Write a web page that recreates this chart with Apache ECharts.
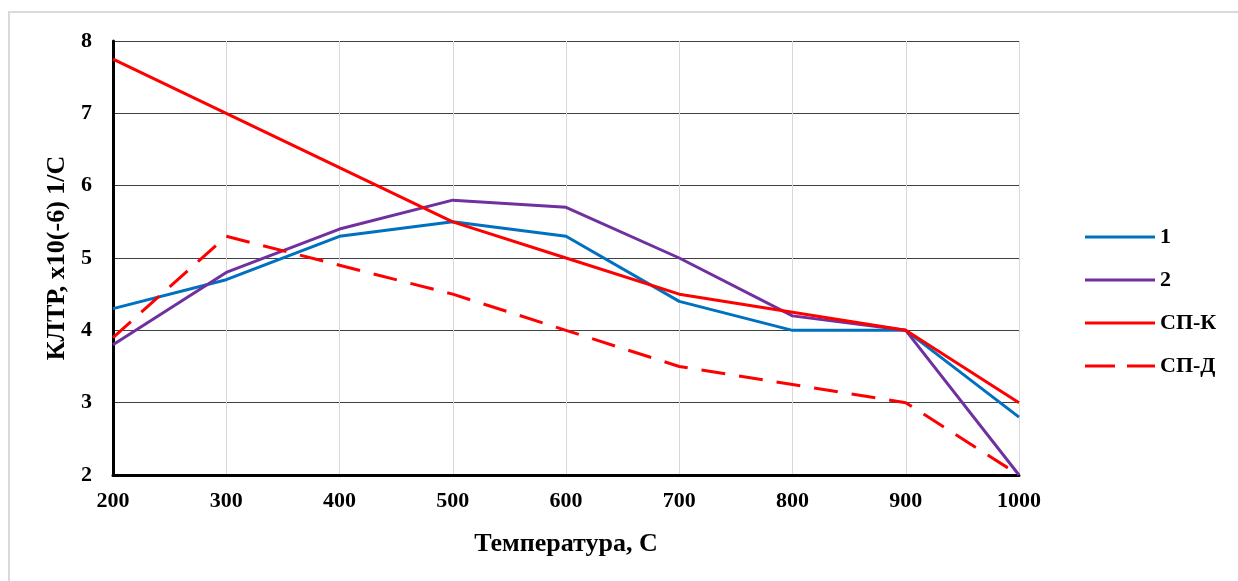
<!DOCTYPE html>
<html>
<head>
<meta charset="utf-8">
<script src="https://cdn.jsdelivr.net/npm/echarts@6/dist/echarts.min.js"></script>
<style>
html,body{margin:0;padding:0;background:#fff;}
#frame{position:absolute;left:8px;top:11px;width:1240px;height:580px;border-left:2px solid #d9d9d9;border-top:2px solid #d9d9d9;}
#chart{position:absolute;left:0;top:0;width:1238px;height:581px;}
</style>
</head>
<body>
<div id="frame"></div>
<div id="chart"></div>
<script>
var categories = ['200','300','400','500','600','700','800','900','1000'];
var series1 = [4.3, 4.7, 5.3, 5.5, 5.3, 4.4, 4.0, 4.0, 2.8];
var series2 = [3.8, 4.8, 5.4, 5.8, 5.7, 5.0, 4.2, 4.0, 2.0];
var seriesSPK = [7.75, 7.0, 6.25, 5.5, 5.0, 4.5, 4.25, 4.0, 3.0];
var seriesSPD = [3.9, 5.3, 4.9, 4.5, 4.0, 3.5, 3.25, 3.0, 2.0];
var seriesNames = ['1', '2', 'СП-К', 'СП-Д'];
var xTitle = 'Температура, C';
var yTitle = 'КЛТР, x10(-6) 1/C';

var font = 'Liberation Serif, Times New Roman, serif';
var chart = echarts.init(document.getElementById('chart'), null, {renderer: 'canvas'});
function line(name, data, color, dashed) {
  return {
    name: name, type: 'line', data: data, symbol: 'none', smooth: false,
    lineStyle: {color: color, width: 3, type: dashed ? [24, 14] : 'solid'},
    itemStyle: {color: color}
  };
}
var solidIcon = 'rect';
var dashIcon = 'path://M0,0h30v3h-30z M42,0h28v3h-28z';
chart.setOption({
  animation: false,
  backgroundColor: 'transparent',
  grid: {left: 113, right: 219, top: 41, bottom: 106, containLabel: false},
  legend: {
    orient: 'vertical', left: 1080, top: 221, itemWidth: 70, itemHeight: 3, itemGap: 21,
    textStyle: {fontFamily: font, fontWeight: 'bold', fontSize: 22, lineHeight: 22, color: '#000'},
    data: [
      {name: seriesNames[0], icon: solidIcon},
      {name: seriesNames[1], icon: solidIcon},
      {name: seriesNames[2], icon: solidIcon},
      {name: seriesNames[3], icon: dashIcon}
    ]
  },
  xAxis: {
    type: 'category', data: categories, boundaryGap: false,
    name: xTitle, nameLocation: 'middle', nameGap: 56,
    nameTextStyle: {fontFamily: font, fontWeight: 'bold', fontSize: 26, color: '#000'},
    axisLine: {show: true, onZero: false, lineStyle: {color: '#000', width: 3}},
    axisTick: {show: false},
    axisLabel: {margin: 15, fontFamily: font, fontWeight: 'bold', fontSize: 22, color: '#000'},
    splitLine: {show: true, lineStyle: {color: '#d9d9d9', width: 1}}
  },
  yAxis: {
    type: 'value', min: 2, max: 8, interval: 1,
    name: yTitle, nameLocation: 'middle', nameGap: 43, nameRotate: 90,
    nameTextStyle: {fontFamily: font, fontWeight: 'bold', fontSize: 26, color: '#000'},
    axisLine: {show: true, lineStyle: {color: '#000', width: 3}},
    axisTick: {show: false},
    axisLabel: {margin: 21, fontFamily: font, fontWeight: 'bold', fontSize: 22, color: '#000'},
    splitLine: {show: true, lineStyle: {color: '#404040', width: 1}}
  },
  series: [
    line(seriesNames[0], series1, '#0070C0', false),
    line(seriesNames[1], series2, '#7030A0', false),
    line(seriesNames[2], seriesSPK, '#FF0000', false),
    line(seriesNames[3], seriesSPD, '#FF0000', true)
  ]
});
</script>
</body>
</html>
